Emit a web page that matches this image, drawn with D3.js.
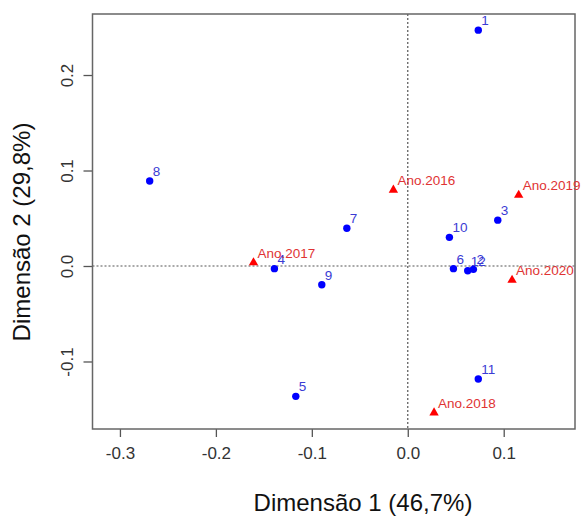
<html>
<head>
    <script src="https://d3js.org/d3.v7.min.js" charset="utf-8"></script>
</head>
<style>
    body{ margin:0; background:#fff; }
    text{ font-family:"Liberation Sans", Arial, sans-serif; }
</style>
<body>
</body>
<script>
    // rows (numbered points)
    const rowLabels=['1','2','3','4','5','6','7','8','9','10','11','12'];
    const rowX=[0.0735,0.0684,0.0938,-0.139,-0.1167,0.0476,-0.0635,-0.269,-0.0896,0.0434,0.0735,0.0625];
    const rowY=[0.247,-0.0035,0.048,-0.0028,-0.1365,-0.0028,0.0395,0.089,-0.0196,0.030,-0.1183,-0.005];

    // columns (years)
    const colLabels=['Ano.2016','Ano.2017','Ano.2018','Ano.2019','Ano.2020'];
    const colX=[-0.015,-0.1608,0.0274,0.1156,0.1087];
    const colY=[0.0796,0.0035,-0.1536,0.0743,-0.0147];

    const xTicks=[-0.3,-0.2,-0.1,0.0,0.1];
    const yTicks=[-0.1,0.0,0.1,0.2];
    const xTitle='Dimensão 1 (46,7%)';
    const yTitle='Dimensão 2 (29,8%)';

    const w=581, h=517;
    const pLeft=92.5, pRight=575, pTop=14, pBottom=429;

    const xScale=d3.scaleLinear().domain([-0.3286,0.1743]).range([pLeft,pRight]);
    const yScale=d3.scaleLinear().domain([-0.1707,0.2639]).range([pBottom,pTop]);

    const svg=d3.select('body').append('svg')
        .attr('width',w)
        .attr('height',h);

    // zero lines
    svg.append('line')
        .attr('x1',xScale(0)).attr('x2',xScale(0))
        .attr('y1',pTop).attr('y2',pBottom)
        .attr('stroke','#555').attr('stroke-width',1.2)
        .attr('stroke-dasharray','2,2');
    svg.append('line')
        .attr('x1',pLeft).attr('x2',pRight)
        .attr('y1',yScale(0)).attr('y2',yScale(0))
        .attr('stroke','#555').attr('stroke-width',1.2)
        .attr('stroke-dasharray','2,2');

    const fmt=d=>d3.format('.1f')(d).replace('−','-');

    // axes
    const xAxis=d3.axisBottom(xScale).tickValues(xTicks).tickSize(8).tickPadding(10);
    const gx=svg.append('g').attr('transform','translate(0,'+pBottom+')').call(xAxis);
    gx.select('.domain').remove();
    gx.selectAll('line').attr('stroke','#555').attr('stroke-width',1.3);
    gx.selectAll('text').attr('font-size',17).attr('fill','#333')
        .attr('font-family','"Liberation Sans", Arial, sans-serif')
        .text(fmt);

    const yAxis=d3.axisLeft(yScale).tickValues(yTicks).tickSize(9);
    const gy=svg.append('g').attr('transform','translate('+pLeft+',0)').call(yAxis);
    gy.select('.domain').remove();
    gy.selectAll('line').attr('stroke','#555').attr('stroke-width',1.3);
    gy.selectAll('text')
        .attr('font-size',17).attr('fill','#333')
        .attr('font-family','"Liberation Sans", Arial, sans-serif')
        .attr('text-anchor','middle')
        .attr('x',0).attr('dy',0)
        .attr('transform','translate(-20,0) rotate(-90)')
        .text(fmt);

    // box
    svg.append('rect')
        .attr('x',pLeft).attr('y',pTop)
        .attr('width',pRight-pLeft).attr('height',pBottom-pTop)
        .attr('fill','none').attr('stroke','#666').attr('stroke-width',1.5);

    // row points
    const rows=rowLabels.map((l,i)=>({l:l,x:rowX[i],y:rowY[i]}));
    svg.append('g').selectAll('circle')
        .data(rows).enter().append('circle')
        .attr('cx',d=>xScale(d.x))
        .attr('cy',d=>yScale(d.y))
        .attr('r',3.7)
        .attr('fill','#0000ff');
    svg.append('g').selectAll('text')
        .data(rows).enter().append('text')
        .attr('x',d=>xScale(d.x)+3)
        .attr('y',d=>yScale(d.y)-5)
        .attr('font-size',13.5)
        .attr('fill','#3b3bd4')
        .text(d=>d.l);

    // column points
    const cols=colLabels.map((l,i)=>({l:l,x:colX[i],y:colY[i]}));
    const tri=d3.symbol().type(d3.symbolTriangle).size(38);
    svg.append('g').selectAll('path')
        .data(cols).enter().append('path')
        .attr('d',tri)
        .attr('transform',d=>'translate('+xScale(d.x)+','+yScale(d.y)+')')
        .attr('fill','#ff0000');
    svg.append('g').selectAll('text')
        .data(cols).enter().append('text')
        .attr('x',d=>xScale(d.x)+4)
        .attr('y',d=>yScale(d.y)-5)
        .attr('font-size',13.5)
        .attr('fill','#e03333')
        .text(d=>d.l);

    // titles
    svg.append('text')
        .attr('x',363)
        .attr('y',511)
        .attr('text-anchor','middle')
        .attr('font-size',24)
        .attr('fill','#111')
        .text(xTitle);
    svg.append('text')
        .attr('transform','translate(30,232) rotate(-90)')
        .attr('text-anchor','middle')
        .attr('font-size',24)
        .attr('fill','#111')
        .text(yTitle);
</script>
</html>
